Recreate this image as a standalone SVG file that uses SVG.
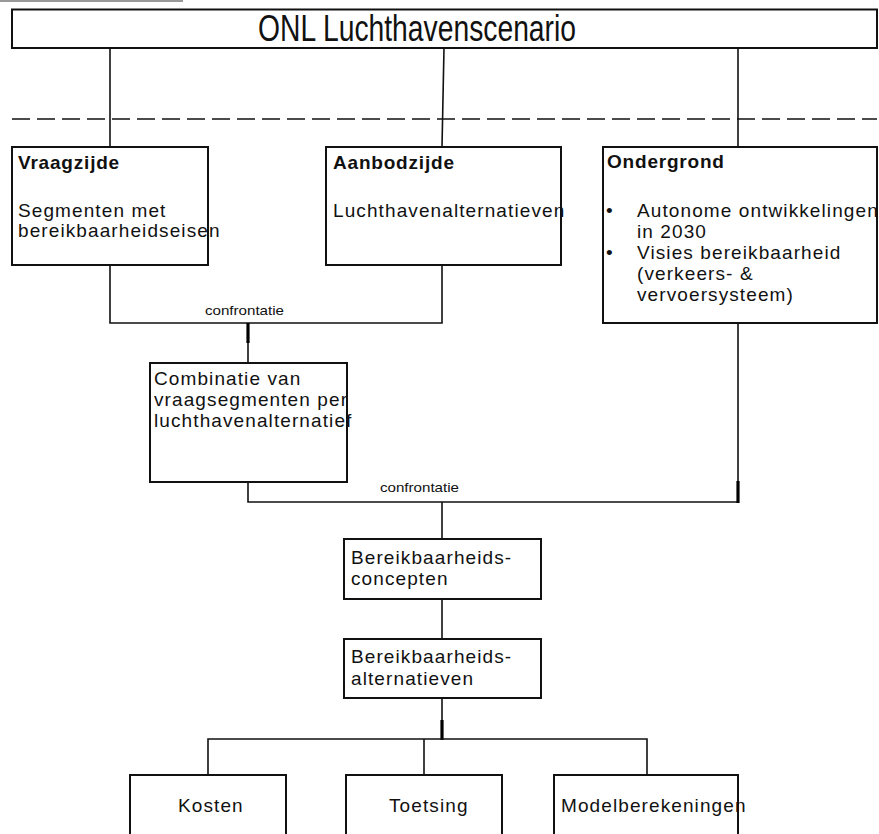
<svg xmlns="http://www.w3.org/2000/svg" width="879" height="834" viewBox="0 0 879 834">
<style>
.box{fill:#fff;stroke:#111;stroke-width:2}
.ln{fill:none;stroke:#111;stroke-width:1.6}
.thk{fill:none;stroke:#000;stroke-width:3.2}
.t{font-family:"Liberation Sans",Arial,sans-serif;font-size:19px;letter-spacing:1.1px;fill:#111}
.b{font-weight:bold;letter-spacing:0.8px}
.s{font-family:"Liberation Sans",Arial,sans-serif;font-size:13px;fill:#111}
.title{font-family:"Liberation Sans",Arial,sans-serif;font-size:36px;fill:#111}
</style>
<line x1="0" y1="1" x2="183" y2="1" stroke="#777" stroke-width="1.5"/>
<g id="connectors">
<line class="ln" x1="110" y1="48" x2="110" y2="147"/>
<line class="ln" x1="444" y1="48" x2="442" y2="147"/>
<line class="ln" x1="738" y1="48" x2="738" y2="147"/>
<line class="ln" x1="12" y1="119" x2="877" y2="119" stroke-dasharray="18 7"/>
<polyline class="ln" points="110,265 110,323 442,323 442,265"/>
<line class="ln" x1="248" y1="323" x2="248" y2="363"/>
<line class="thk" x1="248" y1="323" x2="248" y2="343"/>
<polyline class="ln" points="248,482 248,502 738,502 738,323"/>
<line class="thk" x1="738" y1="481" x2="738" y2="503"/>
<line class="ln" x1="442" y1="502" x2="442" y2="539"/>
<line class="ln" x1="442" y1="599" x2="442" y2="639"/>
<line class="ln" x1="442" y1="698" x2="442" y2="739"/>
<line class="thk" x1="442" y1="720" x2="442" y2="740"/>
<polyline class="ln" points="208,775 208,739 647,739 647,775"/>
<line class="ln" x1="424" y1="739" x2="424" y2="775"/>
<text class="s" x="205" y="315" textLength="79" lengthAdjust="spacingAndGlyphs">confrontatie</text>
<text class="s" x="380" y="492" textLength="79" lengthAdjust="spacingAndGlyphs">confrontatie</text>
</g>
<g id="n-title">
<rect class="box" x="12" y="9.5" width="865" height="38.5"/>
<text class="title" x="258" y="41" textLength="318" lengthAdjust="spacingAndGlyphs">ONL Luchthavenscenario</text>
</g>
<g id="n-vraag">
<rect class="box" x="12" y="147" width="196" height="118"/>
<text class="t b" x="18" y="169">Vraagzijde</text>
<text class="t" x="18" y="217">Segmenten met</text>
<text class="t" x="18" y="237">bereikbaarheidseisen</text>
</g>
<g id="n-aanbod">
<rect class="box" x="326" y="147" width="235" height="118"/>
<text class="t b" x="333" y="169">Aanbodzijde</text>
<text class="t" x="333" y="217">Luchthavenalternatieven</text>
</g>
<g id="n-onder">
<rect class="box" x="603" y="147" width="274" height="176"/>
<text class="t b" x="607" y="168">Ondergrond</text>
<text class="t" x="606" y="217">•</text>
<text class="t" x="637" y="217">Autonome ontwikkelingen</text>
<text class="t" x="637" y="238">in 2030</text>
<text class="t" x="606" y="259">•</text>
<text class="t" x="637" y="259">Visies bereikbaarheid</text>
<text class="t" x="637" y="280">(verkeers- &amp;</text>
<text class="t" x="637" y="301">vervoersysteem)</text>
</g>
<g id="n-combi">
<rect class="box" x="150" y="363" width="197" height="119"/>
<text class="t" x="154" y="385">Combinatie van</text>
<text class="t" x="154" y="406">vraagsegmenten per</text>
<text class="t" x="154" y="427">luchthavenalternatief</text>
</g>
<g id="n-concepten">
<rect class="box" x="344" y="539" width="197" height="60"/>
<text class="t" x="351" y="564">Bereikbaarheids-</text>
<text class="t" x="351" y="585">concepten</text>
</g>
<g id="n-alternatieven">
<rect class="box" x="344" y="639" width="197" height="59"/>
<text class="t" x="351" y="663">Bereikbaarheids-</text>
<text class="t" x="351" y="685">alternatieven</text>
</g>
<g id="n-kosten">
<rect class="box" x="130" y="775" width="156" height="80"/>
<text class="t" x="178" y="812">Kosten</text>
</g>
<g id="n-toetsing">
<rect class="box" x="346" y="775" width="156" height="80"/>
<text class="t" x="389" y="812">Toetsing</text>
</g>
<g id="n-model">
<rect class="box" x="554" y="775" width="184" height="80"/>
<text class="t" x="561" y="812">Modelberekeningen</text>
</g>
</svg>
